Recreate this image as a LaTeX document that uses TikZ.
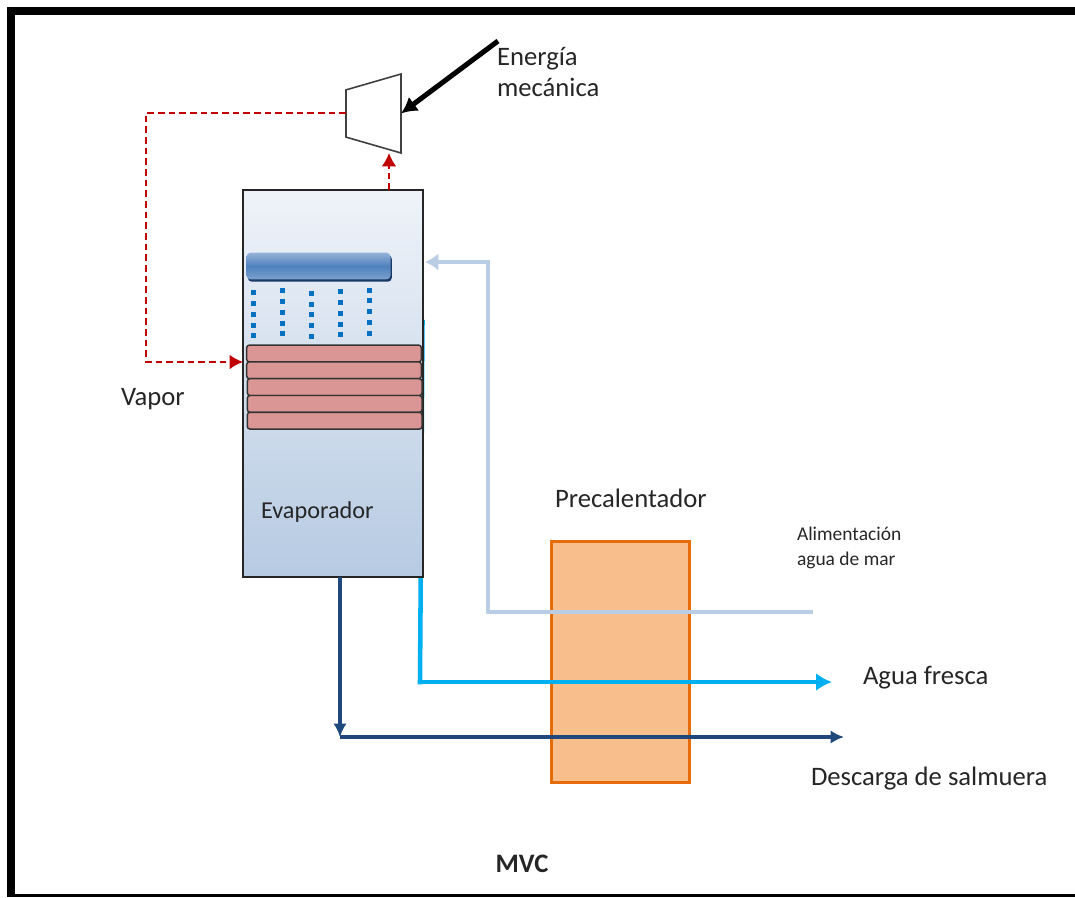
\documentclass[tikz,border=0pt]{standalone}
\usepackage{fontspec}
\setmainfont{Carlito}
\usepackage{xcolor}
\usepackage{tikz}
\usetikzlibrary{shapes.geometric, positioning, shadows}
\usetikzlibrary{arrows.meta}
\tikzset{>={Latex[width=2mm,length=2mm]}}
\definecolor{vesseltop}{HTML}{EFF3F9}
\definecolor{vesselbot}{HTML}{B6CAE2}
\definecolor{barblue}{HTML}{4F81BD}
\definecolor{coilred}{HTML}{D99694}
\definecolor{heatfill}{HTML}{F8BE8C}
\definecolor{heatdraw}{HTML}{E46C0A}
\definecolor{feedblue}{HTML}{B9CDE5}
\definecolor{freshblue}{HTML}{00B0F0}
\definecolor{brineblue}{HTML}{1F497D}
\definecolor{steamred}{HTML}{C00000}
\definecolor{dropblue}{HTML}{0070C0}

\begin{document}
\begin{tikzpicture}[x=0.75pt, y=-0.75pt, inner sep=0pt, outer sep=0pt,
    vessel/.style={rectangle, draw=black!85, line width=1.4pt, top color=vesseltop, bottom color=vesselbot, minimum width=135pt, minimum height=290.25pt},
    spraybar/.style={rectangle, rounded corners=3pt, top color=barblue!60, bottom color=barblue!75, middle color=barblue, drop shadow={shadow xshift=1pt, shadow yshift=-1.8pt, fill=brineblue!80!black, opacity=1}, minimum width=108pt, minimum height=20pt},
    coil/.style={rectangle, rounded corners=2pt, draw=black!80, fill=coilred, line width=1.1pt, minimum width=131pt, minimum height=12.6pt},
    heater/.style={rectangle, draw=heatdraw, fill=heatfill, line width=2.25pt, minimum width=103.5pt, minimum height=180.75pt},
    turbine/.style={trapezium, trapezium stretches=true, trapezium left angle=71.4, trapezium right angle=71.4, rotate=90, inner sep=1pt, draw=black!75, line width=1.2pt, minimum width=59.25pt, minimum height=41.25pt},
    txt/.style={anchor=west, align=left, text=black!85, font=\fontsize{20}{23.5}\selectfont},
    smalltxt/.style={anchor=west, align=left, text=black!85, font=\fontsize{14.6}{18.4}\selectfont},
    steam/.style={draw=steamred, line width=1.4pt, dash pattern=on 5pt off 3pt},
    steamtip/.style={-{Latex[width=11pt,length=10pt]}},
    feed/.style={draw=feedblue, line width=3.6pt, -{Latex[width=13pt,length=10pt]}},
    fresh/.style={draw=freshblue, line width=3.4pt},
    brine/.style={draw=brineblue, line width=2.4pt, -{Latex[width=10pt,length=10pt]}},
    spray/.style={draw=dropblue, line width=3.75pt, dash pattern=on 3.75pt off 4.35pt}]

    \useasboundingbox (0,0) rectangle (1075,897);

    %Frame
    \fill[black] (7,7) rectangle (1075,15);
    \fill[black] (7,7) rectangle (15,897);
    \fill[black] (7,893.5) rectangle (1075,897);

    %Free ends
    \coordinate (steam_top) at (146,113);
    \coordinate (steam_low) at (146,362);
    \coordinate (steam_up) at (389,153);
    \coordinate (work_in) at (498,41);
    \coordinate (feed_in) at (813,612);
    \coordinate (feed_lower) at (488,612);
    \coordinate (feed_upper) at (488,262);
    \coordinate (feed_out) at (425,262);
    \coordinate (fresh_top) at (422.5,322);
    \coordinate (fresh_low) at (420,682);
    \coordinate (fresh_out) at (832,682);
    \coordinate (brine_low) at (340,737);
    \coordinate (brine_out) at (844,737);

    %Line behind the vessel
    \draw[fresh, line cap=rect] (fresh_top) -- (fresh_low);

    %Nodes
    \node[vessel](evaporator) at (333,383.5){};
    \node[spraybar](spray_bar) at (318.5,266){};
    \node[coil](coil_a) at (334,353.5){};
    \node[coil](coil_b)[below=0pt of coil_a]{};
    \node[coil](coil_c)[below=0pt of coil_b, xshift=0.5pt]{};
    \node[coil](coil_d)[below=0pt of coil_c]{};
    \node[coil](coil_e)[below=0pt of coil_d]{};
    \node[heater](preheater)[right=96pt of evaporator, yshift=-208.5pt]{};
    \node[turbine](compressor) at (373.5,113.5){};

    \node[txt](energy_text) at (497,72){Energía\\mecánica};
    \node[txt](vapor_text) at (121,399.5){Vapor};
    \node[txt, font=\fontsize{18.2}{22}\selectfont](evap_text) at (261,512){Evaporador};
    \node[txt](heat_text) at (555,498.5){Precalentador};
    \node[smalltxt](feed_text) at (797,548){Alimentación\\agua de mar};
    \node[txt](fresh_text) at (863,678){Agua fresca};
    \node[txt](brine_text) at (811,779){Descarga de salmuera};
    \node[txt, anchor=center, font=\fontsize{20}{24}\selectfont\bfseries](title_text) at (522,864){MVC};

    %Drops
    \foreach \x/\y in {253/290.2, 282/288.2, 311/290.8, 340/289.2, 369/287.5}
        \draw[spray] (\x,\y) -- (\x,{\y+48.2});

    %Lines
    \draw[steam, steamtip] (steam_top -| compressor.north) -- (steam_top) -- (steam_low) -- (steam_low -| evaporator.west);
    \draw[steam, steamtip] (steam_up |- evaporator.north) -- (steam_up);
    \draw[draw=black, line width=3.8pt, -{Latex[width=13pt,length=12pt]}] (work_in) -- (compressor.south);
    \draw[feed] (feed_in) -- (feed_lower) -- (feed_upper) -- (feed_out);
    \draw[fresh, -{Latex[width=13.5pt,length=12pt]}] (fresh_low) -- (fresh_out);
    \draw[brine] (brine_low |- evaporator.south) -- (brine_low);
    \draw[brine] (brine_low) -- (brine_out);
    \end{tikzpicture}
\end{document}
